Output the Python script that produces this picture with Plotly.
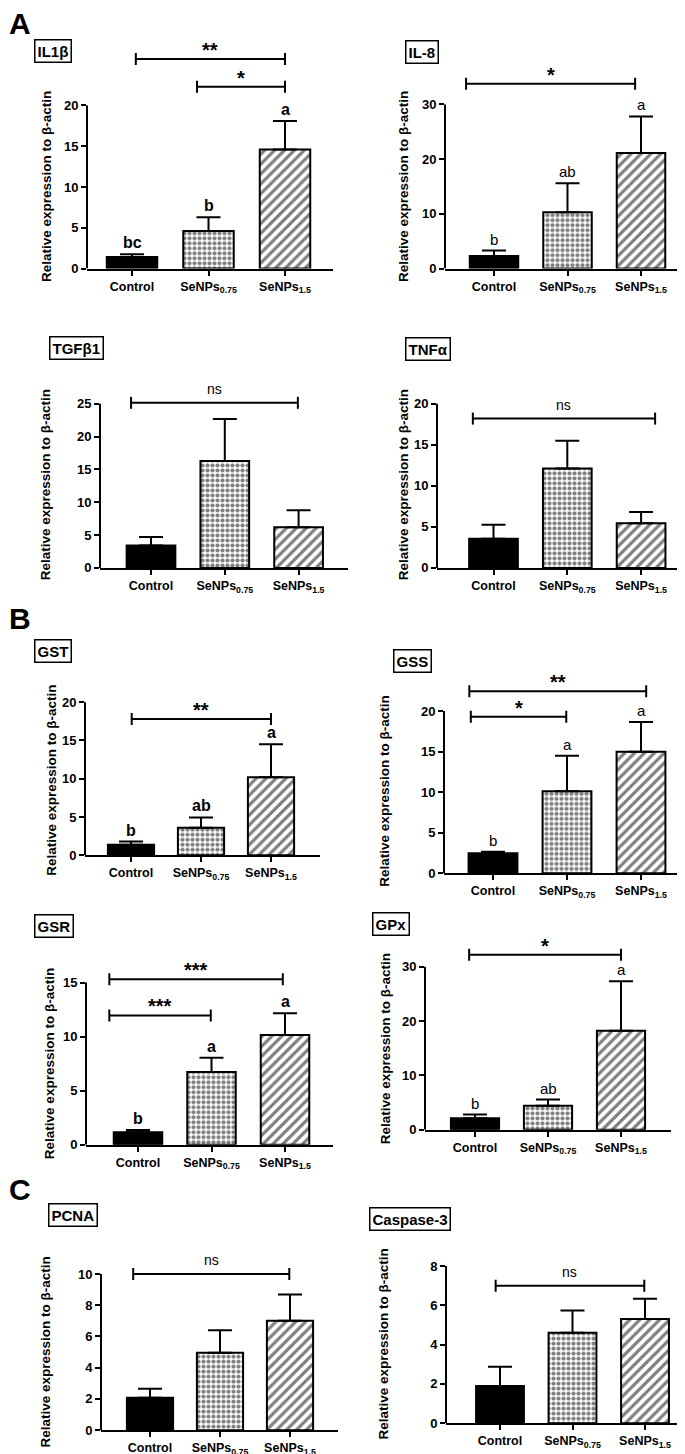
import plotly.graph_objects as go

W, H = 685, 1454
FONT = "Liberation Sans, Arial, sans-serif"

# ---------------- data ----------------
categories = ["Control", "SeNPs0.75", "SeNPs1.5"]
tick_labels = ["<b>Control</b>", "<b>SeNPs<sub>0.75</sub></b>", "<b>SeNPs<sub>1.5</sub></b>"]
y_title = "Relative expression to β-actin"

il1b_mean = [1.42, 4.6, 14.6]
il1b_sd = [0.33, 1.7, 3.5]
il1b_letters = ["bc", "b", "a"]
il1b_sig = [(0.05, 2.0, 25.7, "**"), (0.85, 2.0, 22.3, "*")]
il1b_ticks = [0, 5, 10, 15, 20]

il8_mean = [2.3, 10.3, 21.15]
il8_sd = [1.0, 5.3, 6.65]
il8_letters = ["b", "ab", "a"]
il8_sig = [(-0.38, 1.92, 33.8, "*")]
il8_ticks = [0, 10, 20, 30]

tgfb1_mean = [3.43, 16.3, 6.2]
tgfb1_sd = [1.27, 6.4, 2.6]
tgfb1_letters = ["", "", ""]
tgfb1_sig = [(-0.27, 1.99, 25.15, "ns")]
tgfb1_ticks = [0, 5, 10, 15, 20, 25]

tnfa_mean = [3.55, 12.1, 5.45]
tnfa_sd = [1.7, 3.4, 1.35]
tnfa_letters = ["", "", ""]
tnfa_sig = [(-0.28, 2.19, 18.2, "ns")]
tnfa_ticks = [0, 5, 10, 15, 20]

gst_mean = [1.38, 3.6, 10.2]
gst_sd = [0.42, 1.35, 4.3]
gst_letters = ["b", "ab", "a"]
gst_sig = [(0.01, 2.0, 17.8, "**")]
gst_ticks = [0, 5, 10, 15, 20]

gss_mean = [2.45, 10.1, 15.0]
gss_sd = [0.2, 4.4, 3.65]
gss_letters = ["b", "a", "a"]
gss_sig = [(-0.32, 2.07, 22.45, "**"), (-0.30, 0.99, 19.3, "*")]
gss_ticks = [0, 5, 10, 15, 20]

gsr_mean = [1.16, 6.73, 10.16]
gsr_sd = [0.19, 1.32, 2.0]
gsr_letters = ["b", "a", "a"]
gsr_sig = [(-0.39, 1.97, 15.3, "***"), (-0.39, 0.99, 11.96, "***")]
gsr_ticks = [0, 5, 10, 15]

gpx_mean = [2.14, 4.4, 18.2]
gpx_sd = [0.66, 1.16, 9.1]
gpx_letters = ["b", "ab", "a"]
gpx_sig = [(-0.08, 2.0, 32.2, "*")]
gpx_ticks = [0, 10, 20, 30]

pcna_mean = [2.08, 4.96, 7.0]
pcna_sd = [0.57, 1.44, 1.69]
pcna_letters = ["", "", ""]
pcna_sig = [(-0.24, 1.99, 10.0, "ns")]
pcna_ticks = [0, 2, 4, 6, 8, 10]

casp3_mean = [1.89, 4.6, 5.3]
casp3_sd = [0.98, 1.14, 1.03]
casp3_letters = ["", "", ""]
casp3_sig = [(-0.06, 1.99, 6.99, "ns")]
casp3_ticks = [0, 2, 4, 6, 8]

PANELS = [
    dict(title="IL1β", mean=il1b_mean, sd=il1b_sd, letters=il1b_letters, sig=il1b_sig, ticks=il1b_ticks, bold=True),
    dict(title="IL-8", mean=il8_mean, sd=il8_sd, letters=il8_letters, sig=il8_sig, ticks=il8_ticks, bold=False),
    dict(title="TGFβ1", mean=tgfb1_mean, sd=tgfb1_sd, letters=tgfb1_letters, sig=tgfb1_sig, ticks=tgfb1_ticks, bold=False),
    dict(title="TNFα", mean=tnfa_mean, sd=tnfa_sd, letters=tnfa_letters, sig=tnfa_sig, ticks=tnfa_ticks, bold=False),
    dict(title="GST", mean=gst_mean, sd=gst_sd, letters=gst_letters, sig=gst_sig, ticks=gst_ticks, bold=True),
    dict(title="GSS", mean=gss_mean, sd=gss_sd, letters=gss_letters, sig=gss_sig, ticks=gss_ticks, bold=False),
    dict(title="GSR", mean=gsr_mean, sd=gsr_sd, letters=gsr_letters, sig=gsr_sig, ticks=gsr_ticks, bold=True),
    dict(title="GPx", mean=gpx_mean, sd=gpx_sd, letters=gpx_letters, sig=gpx_sig, ticks=gpx_ticks, bold=False),
    dict(title="PCNA", mean=pcna_mean, sd=pcna_sd, letters=pcna_letters, sig=pcna_sig, ticks=pcna_ticks, bold=False),
    dict(title="Caspase-3", mean=casp3_mean, sd=casp3_sd, letters=casp3_letters, sig=casp3_sig, ticks=casp3_ticks, bold=False),
]

# ---------------- styles ----------------
BAR_STYLES = [
    dict(color="black", pattern=None),
    dict(color="white", pattern=dict(shape=".", size=5, solidity=0.55, fgcolor="black",
                                     bgcolor="white", fillmode="overlay")),
    dict(color="white", pattern=dict(shape="/", size=7, solidity=0.45, fgcolor="black",
                                     bgcolor="white", fillmode="overlay")),
]

# ---------------- layout geometry (pixels) ----------------
# left, right, zero_px, maxtick_px, top_px, first_center_px, step_px, ytitle_x, ytitle_y, box_x, box_y
GEOM = [
    (79, 325, 262, 98, 33, 124, 76.5, 38, 180, 45, 43),
    (437, 685, 262, 97, 55, 486, 73.5, 395, 180, 414, 44),
    (92, 340, 563, 398, 372, 143, 73.8, 37, 480, 68, 342),
    (429, 685, 563, 398, 385, 485.5, 73.8, 395, 480, 420, 343),
    (77, 312, 852, 698, 688, 123, 70, 44, 777, 45, 647),
    (436, 685, 870, 707, 662, 485, 74, 377, 788, 404, 657),
    (78, 325, 1143, 980, 952, 130, 73.5, 41, 1062, 46, 923),
    (417, 663, 1128, 964, 928, 467, 73, 377, 1047, 383, 921),
    (93, 330, 1430, 1273, 1248, 142, 70, 38, 1352, 65, 1214),
    (438, 685, 1423, 1265, 1255, 492, 72.5, 376, 1344, 402, 1218),
]

PANEL_LETTERS = [("A", 12, 16), ("B", 12, 614), ("C", 12, 1188)]

fig = go.Figure()
layout = dict(
    width=W, height=H, margin=dict(l=0, r=0, t=0, b=0),
    paper_bgcolor="white", plot_bgcolor="white", showlegend=False,
    barmode="overlay",
    font=dict(family=FONT, color="black"),
)
shapes = []
annotations = []

def px_x(p):
    return p / W

def px_y(p):
    return 1 - p / H

for i, (p, g) in enumerate(zip(PANELS, GEOM), start=1):
    left, right, zero_px, max_px, top_px, c0, step, ytx, yty, bx, by = g
    sfx = "" if i == 1 else str(i)
    xref, yref = "x" + sfx, "y" + sfx
    tickmax = p["ticks"][-1]
    ppu = (zero_px - max_px) / tickmax
    ytop = (zero_px - top_px) / ppu
    xr0 = (left - c0) / step
    xr1 = (right - c0) / step

    for j, cat in enumerate(categories):
        st = BAR_STYLES[j]
        marker = dict(color=st["color"], line=dict(color="black", width=2))
        if st["pattern"]:
            marker["pattern"] = st["pattern"]
        fig.add_trace(go.Bar(
            x=[j], y=[p["mean"][j]], width=0.66, name=cat,
            xaxis=xref, yaxis=yref, marker=marker, opacity=1,
            error_y=dict(type="data", array=[p["sd"][j]], arrayminus=[0],
                         symmetric=False, color="black", thickness=2, width=12),
            hoverinfo="skip",
        ))

    layout["xaxis" + sfx] = dict(
        domain=[px_x(left), px_x(right)], range=[xr0, xr1], anchor=yref,
        tickmode="array", tickvals=[0, 1, 2], ticktext=tick_labels,
        ticks="outside", ticklen=5, tickwidth=2, tickcolor="black",
        showline=True, linewidth=2, linecolor="black",
        showgrid=False, zeroline=False, fixedrange=True,
        tickfont=dict(family=FONT, size=12.5, color="black"),
    )
    layout["yaxis" + sfx] = dict(
        domain=[px_y(zero_px), px_y(top_px)], range=[0, ytop], anchor=xref,
        tickmode="array", tickvals=p["ticks"],
        ticktext=["<b>%d</b>" % t for t in p["ticks"]],
        ticks="outside", ticklen=5, tickwidth=2, tickcolor="black",
        showline=False, showgrid=False, zeroline=False, fixedrange=True,
        tickfont=dict(family=FONT, size=13, color="black"),
    )
    # y-axis line from 0 to max tick
    shapes.append(dict(type="line", xref=xref + " domain", yref=yref,
                       x0=0, x1=0, y0=0, y1=tickmax,
                       line=dict(color="black", width=2)))
    # y title
    annotations.append(dict(
        text="<b>" + y_title + "</b>", xref="paper", yref="paper",
        x=px_x(ytx), y=px_y(yty), textangle=-90, showarrow=False,
        xanchor="center", yanchor="middle",
        font=dict(family=FONT, size=13.5, color="black")))
    # boxed title
    annotations.append(dict(
        text="<b>" + p["title"] + "</b>", xref="paper", yref="paper",
        x=px_x(bx), y=px_y(by), showarrow=False, xanchor="center", yanchor="middle",
        bordercolor="black", borderwidth=1.5, borderpad=2, bgcolor="white",
        font=dict(family=FONT, size=15, color="black")))
    # letters above error bars
    for j, (m, s, lt) in enumerate(zip(p["mean"], p["sd"], p["letters"])):
        if not lt:
            continue
        annotations.append(dict(
            text=("<b>%s</b>" % lt) if p["bold"] else lt,
            xref=xref, yref=yref, x=j, y=m + s, showarrow=False,
            xanchor="center", yanchor="bottom", yshift=1,
            font=dict(family=FONT, size=16 if p["bold"] else 15, color="black")))
    # significance brackets
    for (a, b, lvl, lab) in p["sig"]:
        shapes.append(dict(type="line", xref=xref, yref=yref, x0=a, x1=b, y0=lvl, y1=lvl,
                           line=dict(color="black", width=2)))
        for xe in (a, b):
            shapes.append(dict(type="line", xref=xref, yref=yref, x0=xe, x1=xe,
                               ysizemode="pixel", yanchor=lvl, y0=-6, y1=6,
                               line=dict(color="black", width=2)))
        is_ns = lab == "ns"
        annotations.append(dict(
            text=lab if is_ns else "<b>%s</b>" % lab,
            xref=xref, yref=yref, x=(a + b) / 2, y=lvl, showarrow=False,
            xanchor="center", yanchor="bottom", yshift=4 if is_ns else -4,
            font=dict(family=FONT, size=14 if is_ns else 20, color="black")))

for letter, lx, ly in PANEL_LETTERS:
    annotations.append(dict(
        text="<b>%s</b>" % letter, xref="paper", yref="paper",
        x=px_x(lx), y=px_y(ly), showarrow=False, xanchor="center", yanchor="middle",
        font=dict(family=FONT, size=30, color="black")))

layout["shapes"] = shapes
layout["annotations"] = annotations
fig.update_layout(**layout)
fig.write_html("out.html")
